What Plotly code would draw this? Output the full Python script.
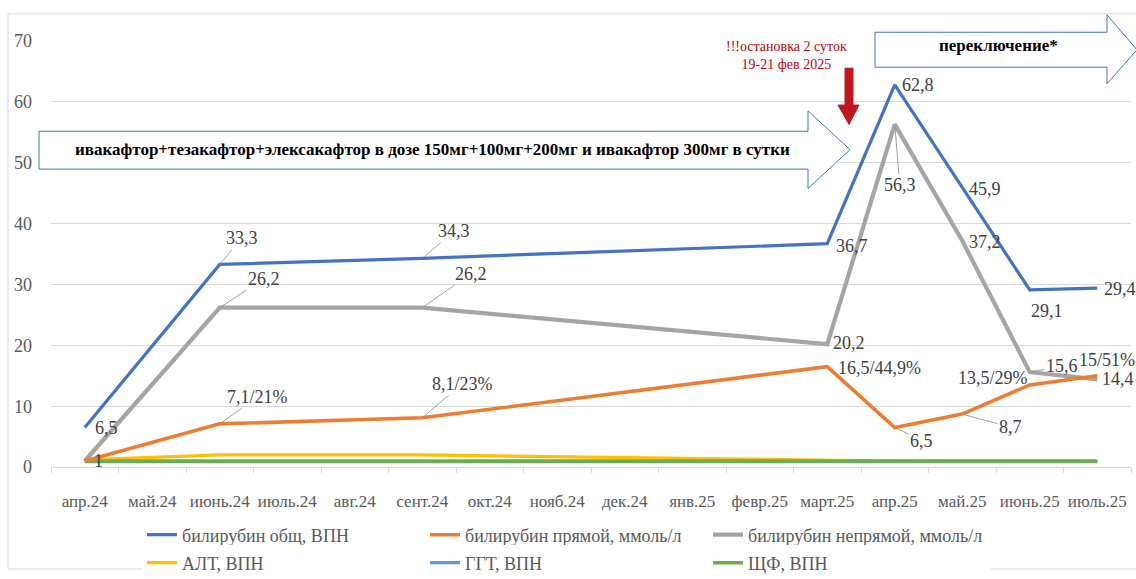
import plotly.graph_objects as go

months = ["апр.24", "май.24", "июнь.24", "июль.24", "авг.24", "сент.24", "окт.24",
          "нояб.24", "дек.24", "янв.25", "февр.25", "март.25", "апр.25", "май.25",
          "июнь.25", "июль.25"]

N = None
bili_total = [6.5, N, 33.3, N, N, 34.3, N, N, N, N, N, 36.7, 62.8, 45.9, 29.1, 29.4]
bili_direct = [1.0, N, 7.1, N, N, 8.1, N, N, N, N, N, 16.5, 6.5, 8.7, 13.5, 15.0]
bili_indirect = [1.0, N, 26.2, N, N, 26.2, N, N, N, N, N, 20.2, 56.3, 37.2, 15.6, 14.4]
alt = [1.2, N, 2.0, N, N, 2.0, N, N, N, N, N, 1.1, 1.0, 1.0, 1.0, 1.0]
ggt = [0.9, N, 0.9, N, N, 0.9, N, N, N, N, N, 0.9, 0.9, 0.9, 0.9, 0.9]
alp = [1.0, N, 1.0, N, N, 1.0, N, N, N, N, N, 1.0, 1.0, 1.0, 1.0, 1.0]

direct_labels = ["1", "", "7,1/21%", "", "", "8,1/23%", "", "", "", "", "",
                 "16,5/44,9%", "6,5", "8,7", "13,5/29%", "15/51%"]

SERIF = "Liberation Serif"
W, H = 1136, 579
ML, MR, MT, MB = 51, 5, 41, 99

fig = go.Figure()

series = [
    ("билирубин общ, ВПН", bili_total, "#4472C4", 3.2, "legend"),
    ("билирубин прямой, ммоль/л", bili_direct, "#ED7D31", 3.6, "legend"),
    ("билирубин непрямой, ммоль/л", bili_indirect, "#A5A5A5", 4.2, "legend"),
    ("АЛТ, ВПН", alt, "#FFC000", 3.2, "legend2"),
    ("ГГТ, ВПН", ggt, "#5B9BD5", 3.2, "legend2"),
    ("ЩФ, ВПН", alp, "#70AD47", 3.6, "legend2"),
]
# draw so that the bilirubin lines sit on top of the enzyme lines
order = [3, 4, 5, 2, 1, 0]
for k in order:
    name, vals, color, width, leg = series[k]
    fig.add_trace(go.Scatter(
        x=months, y=vals, name=name, mode="lines", connectgaps=True,
        line=dict(color=color, width=width),
        legend=leg, legendrank=k + 1,
    ))

def fmt(v):
    return ("%g" % v).replace(".", ",")

label_color = "#404040"

def add_label(i, v, text, dx, dy, leader):
    if leader:
        fig.add_annotation(x=months[i], y=v, text=text, showarrow=True,
                           ax=dx, ay=dy, arrowhead=0, arrowwidth=0.8,
                           arrowcolor="#8c8c8c", standoff=2,
                           font=dict(family=SERIF, size=18, color=label_color))
    else:
        fig.add_annotation(x=months[i], y=v, text=text, showarrow=False,
                           xanchor="center", yanchor="middle",
                           xshift=dx, yshift=-dy,
                           font=dict(family=SERIF, size=18, color=label_color))

# label offsets in px from the data point: (dx, dy, leader line)
total_off = {0: (22, 0, False), 2: (22, -26, True), 5: (32, -27, True),
             11: (25, 2, False), 12: (23, 0, False), 13: (23, 1, False),
             14: (17, 21, False), 15: (23, 1, False)}
for i, (dx, dy, ld) in total_off.items():
    add_label(i, bili_total[i], fmt(bili_total[i]), dx, dy, ld)

indirect_off = {2: (44, -29, True), 5: (49, -34, True), 11: (22, -1, False),
                12: (5, 61, True), 13: (23, 1, False), 14: (32, -6, True),
                15: (21, 0, False)}
for i, (dx, dy, ld) in indirect_off.items():
    add_label(i, bili_indirect[i], fmt(bili_indirect[i]), dx, dy, ld)

direct_off = {0: (14, 0, False), 2: (38, -27, True), 5: (40, -34, True),
              11: (52, 1, False), 12: (27, 13, True), 13: (48, 13, True),
              14: (-37, -7, False), 15: (10, -16, False)}
for i, (dx, dy, ld) in direct_off.items():
    add_label(i, bili_direct[i], direct_labels[i], dx, dy, ld)


# helpers converting page pixels to paper coordinates for the callouts
PW = W - ML - MR
PH = H - MT - MB

def px(x):
    return (x - ML) / PW

def py(y):
    return (H - MB - y) / PH

def poly(pts):
    return "M " + " L ".join("%.5f,%.5f" % (px(a), py(b)) for a, b in pts) + " Z"

def arrow_path(x0, x1, xt, yt, yb, ht, hb, ymid):
    return poly([(x0, yt), (x1, yt), (x1, ht), (xt, ymid), (x1, hb), (x1, yb), (x0, yb)])

def note(x, y, text, size, color):
    fig.add_annotation(xref="paper", yref="paper", x=px(x), y=py(y),
                       xanchor="center", yanchor="middle", text=text, showarrow=False,
                       font=dict(family=SERIF, size=size, color=color))

# outer chart frame
fig.add_shape(type="rect", xref="paper", yref="paper",
              x0=px(8), x1=px(1140), y0=py(585), y1=py(13),
              line=dict(color="#d9d9d9", width=1), fillcolor="rgba(0,0,0,0)")

# therapy block arrow
fig.add_shape(type="path", xref="paper", yref="paper",
              path=arrow_path(39, 808, 850, 134, 173, 113, 193, 153),
              line=dict(color="#4472C4", width=1), fillcolor="white")
note(432, 153, "<b>ивакафтор+тезакафтор+элексакафтор в дозе 150мг+100мг+200мг и ивакафтор 300мг в сутки</b>",
     17, "black")

# switch block arrow
fig.add_shape(type="path", xref="paper", yref="paper",
              path=arrow_path(875, 1107, 1137, 32, 68, 14, 85, 50),
              line=dict(color="#4472C4", width=1), fillcolor="white")
note(998, 46, "<b>переключение*</b>", 17, "black")

# interruption note with red down arrow
note(786, 56, "!!!остановка 2 суток<br>19-21 фев 2025", 14, "#C00000")
fig.add_shape(type="path", xref="paper", yref="paper",
              path=poly([(845, 69), (853, 69), (853, 107), (859, 107), (849, 127),
                         (838, 107), (845, 107)]),
              line=dict(color="#C0161D", width=1), fillcolor="#C0161D")

fig.update_layout(
    width=W, height=H,
    margin=dict(l=ML, r=MR, t=MT, b=MB),
    paper_bgcolor="white", plot_bgcolor="white",
    font=dict(family=SERIF, color="#595959"),
    showlegend=True,
    legend=dict(orientation="h", x=px(142), xanchor="left",
                yref="container", y=1 - 535 / H, yanchor="middle",
                entrywidth=238, entrywidthmode="pixels",
                font=dict(family=SERIF, size=18, color="#595959")),
    legend2=dict(orientation="h", x=px(142), xanchor="left",
                 yref="container", y=1 - 563 / H, yanchor="middle",
                 entrywidth=238, entrywidthmode="pixels",
                 font=dict(family=SERIF, size=18, color="#595959")),
)
fig.update_xaxes(type="category", categoryorder="array", categoryarray=months,
                 range=[-0.5, len(months) - 0.5],
                 showline=True, linecolor="#d9d9d9", linewidth=1,
                 ticks="outside", tickson="boundaries", ticklen=5, tickcolor="#d9d9d9",
                 ticklabelstandoff=19,
                 showgrid=False, tickangle=0,
                 tickfont=dict(family=SERIF, size=17, color="#595959"))
fig.update_yaxes(range=[0, 70], dtick=10, showgrid=True, gridcolor="#d9d9d9",
                 zeroline=False, showline=False, ticks="", ticklabelstandoff=18,
                 tickfont=dict(family=SERIF, size=18, color="#595959"))

fig.write_html("out.html")
